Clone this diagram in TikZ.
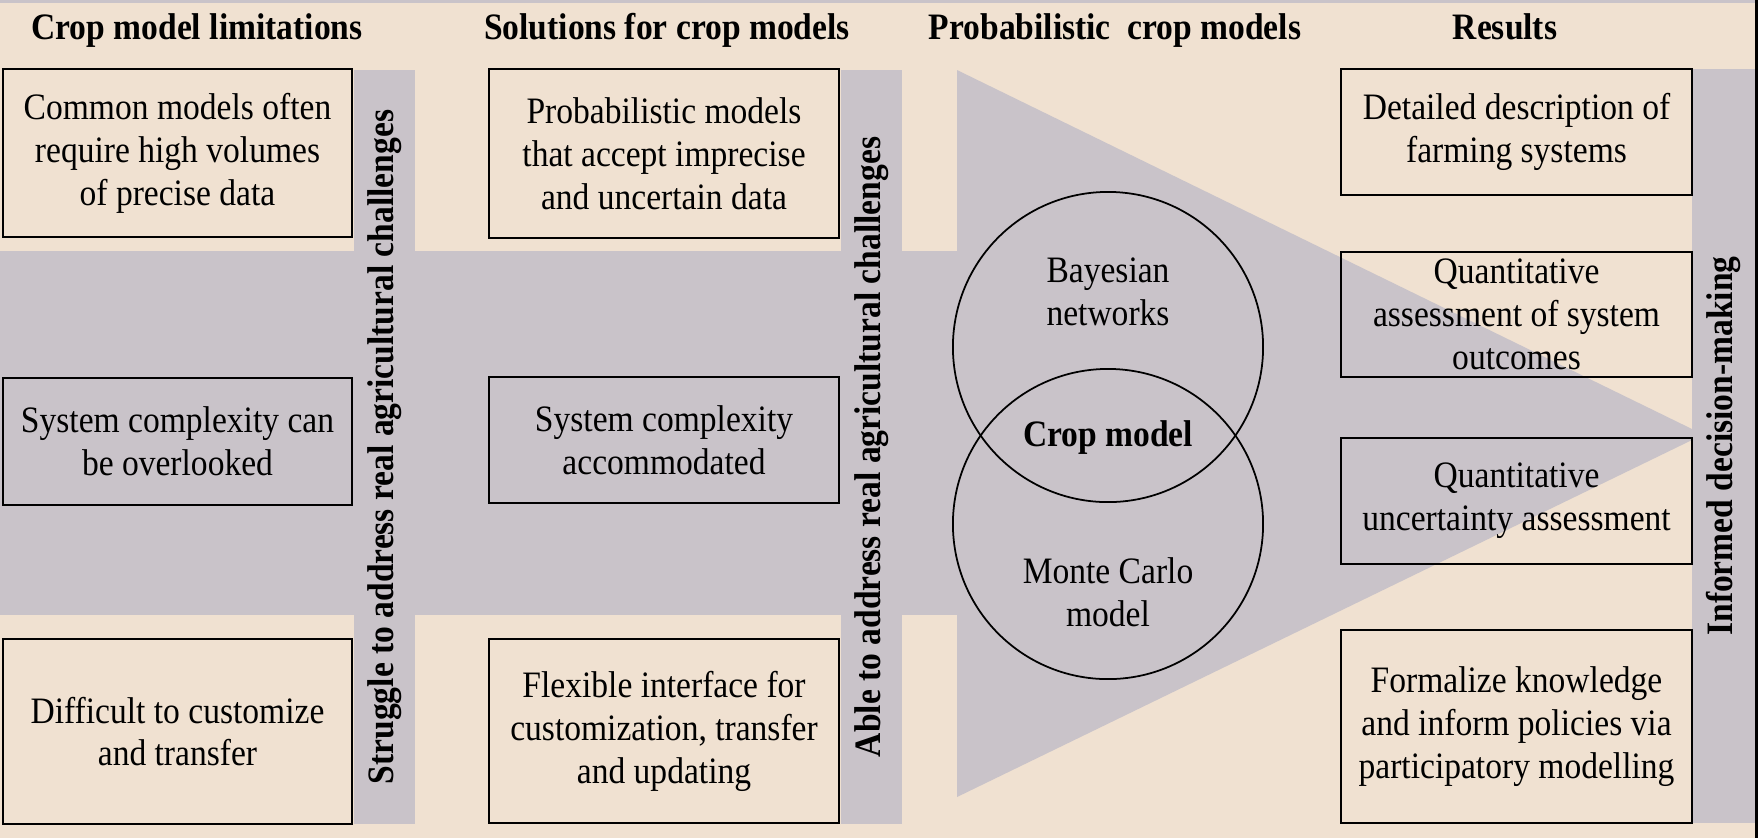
\documentclass[tikz,border=0pt]{standalone}
\usepackage{fontspec}
\setmainfont[FakeStretch=0.9]{Liberation Serif}
\usepackage{tikz}
\usetikzlibrary{positioning}
\definecolor{sand}{RGB}{240,225,209}
\definecolor{haze}{RGB}{201,195,201}

\begin{document}
\begin{tikzpicture}
[x=0.01cm,y=-0.01cm,
 txt/.style={font=\fontsize{10.6}{12.2}\selectfont,align=center},
 head/.style={font=\fontsize{10.6}{12.2}\selectfont\bfseries,anchor=base},
 lbox/.style={draw=black,line width=0.6pt,inner sep=0pt,txt},
 barlabel/.style={font=\fontsize{10.6}{12.2}\selectfont\bfseries,rotate=90},
 ring/.style={circle,draw=black,line width=0.5pt,minimum size=3.1cm,inner sep=0pt}]
\useasboundingbox (0,0) rectangle (1758,838);
\fill[sand] (0,0) rectangle (1758,838);
\fill[haze] (0,0) rectangle (1758,3);
\fill[black] (1755,0) rectangle (1758,838);

\fill[haze] (0,251) rectangle (957,615);
\fill[haze] (354,70) rectangle (415,824);
\fill[haze] (841,70) rectangle (902,824);
\fill[haze] (1692,69) rectangle (1755,823);
\fill[haze] (957,70) -- (1692,429) -- (1692,440) -- (957,797) -- cycle;

\node[head] (t1) at (197,39) {Crop model limitations};
\node[head] (t2) at (667,39) {Solutions for crop models};
\node[head] (t3) at (1115,39) {Probabilistic~ crop models};
\node[head] (t4) at (1505,39) {Results};

\node[lbox,minimum width=3.49cm,minimum height=1.68cm] (lim1) at (177.5,153) {Common models often\\require high volumes\\of precise data};
\node[lbox,minimum width=3.49cm,minimum height=1.27cm] (lim2) at (177.5,441.5) {System complexity can\\be overlooked};
\node[lbox,minimum width=3.49cm,minimum height=1.85cm] (lim3) at (177.5,731.5) {Difficult to customize\\and transfer};

\node[lbox,minimum width=3.50cm,minimum height=1.69cm] (sol1) at (664,153.5) {Probabilistic models\\that accept imprecise\\and uncertain data};
\node[lbox,minimum width=3.50cm,minimum height=1.26cm] (sol2) at (664,440) {System complexity\\accommodated};
\node[lbox,minimum width=3.50cm,minimum height=1.84cm] (sol3) at (664,731) {Flexible interface for\\customization, transfer\\and updating};

\node[ring] (bn) at (1108,347) {};
\node[ring] (mc) at (1108,524) {};
\node[txt] (bnt) at (1108,292) {Bayesian\\networks};
\node[txt,font=\fontsize{10.6}{12.2}\selectfont\bfseries] (crop) at (1108,438) {Crop model};
\node[txt] (mct) at (1108,592) {Monte Carlo\\model};

\node[lbox,minimum width=3.51cm,minimum height=1.26cm] (res1) at (1516.5,132) {Detailed description of\\farming systems};
\node[lbox,minimum width=3.51cm,minimum height=1.25cm] (res2) at (1516.5,314.5) {Quantitative\\assessment of system\\outcomes};
\node[lbox,minimum width=3.51cm,minimum height=1.26cm] (res3) at (1516.5,501) {Quantitative\\uncertainty assessment};
\node[lbox,minimum width=3.51cm,minimum height=1.93cm] (res4) at (1516.5,726.5) {Formalize knowledge\\and inform policies via\\participatory modelling};

\node[barlabel] (b1) at (384.5,447) {Struggle to address real agricultural challenges};
\node[barlabel] (b2) at (871.5,447) {Able to address real agricultural challenges};
\node[barlabel] (b4) at (1723.5,446) {Informed decision-making};
\end{tikzpicture}
\end{document}
